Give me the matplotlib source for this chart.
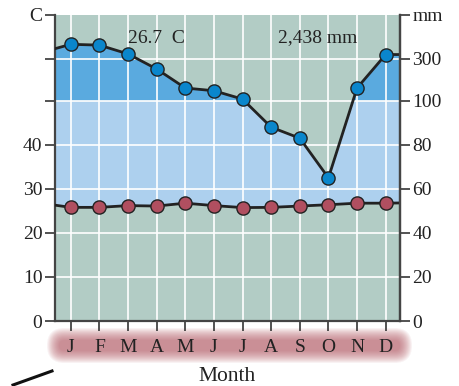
import numpy as np
import matplotlib
matplotlib.use("Agg")
import matplotlib.pyplot as plt
from matplotlib.patches import FancyBboxPatch
from matplotlib.lines import Line2D

plt.rcParams['font.family'] = ['Liberation Serif', 'DejaVu Serif']

# data
months = ["J", "F", "M", "A", "M", "J", "J", "A", "S", "O", "N", "D"]
precip_mm = [370, 366, 324, 252, 161, 148, 108, 88, 83, 65, 161, 321]
temp_c = [25.8, 25.8, 26.2, 26.1, 26.75, 26.2, 25.75, 25.8, 26.1, 26.4, 26.75, 26.75]
# line values where the curves meet the left / right frame
precip_edges = [349, 321]
temp_edges = [26.3, 26.8]
left_labels = ["0", "10", "20", "30", "40", "", "", "C"]
right_labels = ["0", "20", "40", "60", "80", "100", "300", "mm"]
right_ticks_mm = [0, 20, 40, 60, 80, 100, 300, 510]
mean_temp = "26.7  C"
total_precip = "2,438 mm"

BG = "#b2ccc5"
LIGHT = "#add0ee"
DARK = "#5aaadf"
BLUE = "#0a86cc"
RED = "#b04f60"
INK = "#222222"
SPINE = "#444444"
FS = 14


def pu(p):
    # precipitation scale is compressed above 100 mm
    p = np.asarray(p, dtype=float)
    return np.where(p <= 100, p, 100 + (p - 100) * 0.095)


x_left, x_right = -0.55, 11.5
xm = np.arange(12)
xs = np.concatenate([[x_left], xm, [x_right]])
p_all = np.concatenate([[precip_edges[0]], precip_mm, [precip_edges[1]]])
t_all = np.concatenate([[temp_edges[0]], temp_c, [temp_edges[1]]])
p_u = pu(p_all)
t_u = 2 * t_all

fig = plt.figure(figsize=(4.6, 3.86), dpi=100)
ax = fig.add_axes([55 / 460, 65 / 386, 345 / 460, 306 / 386])
ax.set_facecolor(BG)
ax.set_xlim(x_left, x_right)
ytop = float(pu(510))
ax.set_ylim(0, ytop)

# fills
xd = np.linspace(x_left, x_right, 2000)
pd_ = np.interp(xd, xs, p_u)
td = np.interp(xd, xs, t_u)
low = np.minimum(pd_, 100)
ax.fill_between(xd, td, low, where=low > td, color=LIGHT, lw=0, zorder=1)
ax.fill_between(xd, 100, pd_, where=pd_ > 100, color=DARK, lw=0, zorder=1)

# grid
yt = pu(right_ticks_mm)
for y in yt[1:-1]:
    ax.axhline(y, color="white", lw=1.2, zorder=1.5)
for x in xm:
    ax.axvline(x, color="white", lw=1.2, zorder=1.5)

# lines
ax.plot(xs, p_u, color=INK, lw=2.0, zorder=3)
ax.plot(xm, pu(precip_mm), "o", ms=9.5, mfc=BLUE, mec=INK, mew=1.0, zorder=4)
ax.plot(xs, t_u, color=INK, lw=2.0, zorder=3)
ax.plot(xm, 2 * np.array(temp_c), "o", ms=9.5, mfc=RED, mec=INK, mew=1.0, zorder=4)

ax.text(3.0, 128.3, mean_temp, fontsize=FS, color=INK, ha="center", va="center")
ax.text(8.61, 128.8, total_precip, fontsize=FS, color=INK, ha="center", va="center")

# axes styling
ax.spines["top"].set_visible(False)
for s in ["left", "right", "bottom"]:
    ax.spines[s].set_color(SPINE)
    ax.spines[s].set_linewidth(1.6)
ax.set_yticks(yt)
ax.set_yticklabels(left_labels)
ax.tick_params(axis="y", direction="out", length=7, width=1.3, color=SPINE,
               labelsize=FS, pad=2, labelcolor=INK)
ax2 = ax.twinx()
ax2.set_ylim(0, ytop)
ax2.set_yticks(yt)
ax2.set_yticklabels(right_labels)
ax2.tick_params(axis="y", direction="out", length=7, width=1.3, color=SPINE,
                labelsize=FS, pad=2, labelcolor=INK)
for s in ["top", "left", "bottom"]:
    ax2.spines[s].set_visible(False)
ax2.spines["right"].set_color(SPINE)
ax2.spines["right"].set_linewidth(1.6)

ax.set_xticks(xm)
ax.set_xticklabels(months)
ax.tick_params(axis="x", direction="out", length=7, width=1.3, color=SPINE,
               labelsize=FS, pad=6, labelcolor=INK)
ax.set_xlabel("Month", fontsize=15.5, color=INK, labelpad=8)

# soft pink band behind the month letters (pixel coordinates)
bx0, bx1, by0, by1 = 47, 412, 386 - 363, 386 - 328
for i in range(13):
    s = i * 1.0
    box = FancyBboxPatch((bx0 + s, by0 + s), bx1 - bx0 - 2 * s, by1 - by0 - 2 * s,
                         boxstyle="round,pad=0,rounding_size=%g" % max(17.5 - s, 2),
                         transform=None, facecolor="#b45a66",
                         edgecolor="none", alpha=0.08, zorder=-1)
    fig.patches.append(box)

fig.lines.append(Line2D([13 / 460, 52 / 460], [1 - 385 / 386, 1 - 371 / 386],
                        transform=fig.transFigure, color="#111111", lw=2.2))

fig.savefig("out.png", dpi=100)
